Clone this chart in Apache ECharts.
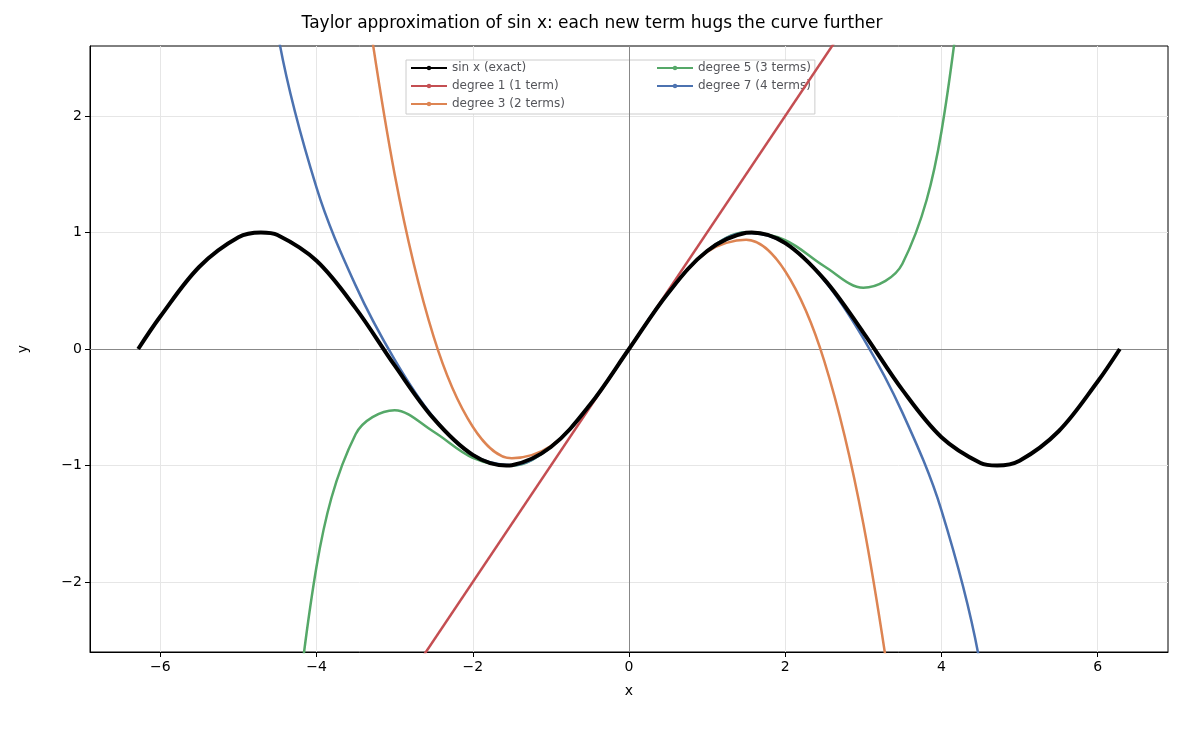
<!DOCTYPE html><html><head><meta charset="utf-8"><script src="https://cdn.jsdelivr.net/npm/echarts@6/dist/echarts.min.js"></script></head><body style="margin:0"><div id="c" style="width:1184px;height:731px"></div><script>
const xsSin=[-6.283,-6,-5.5,-5,-4.712,-4.5,-4,-3.5,-3,-2.5,-2,-1.571,-1.5,-1,-0.5,0,0.5,1,1.5,1.571,2,2.5,3,3.5,4,4.5,4.712,5,5.5,6,6.283];
const ySin=[0,0.279,0.706,0.959,1,0.978,0.757,0.351,-0.141,-0.598,-0.909,-1,-0.997,-0.841,-0.479,0,0.479,0.841,0.997,1,0.909,0.598,0.141,-0.351,-0.757,-0.978,-1,-0.959,-0.706,-0.279,0];
const xs1=[-3,3];const y1=[-3,3];
const xs3=[-3.5,-3,-2.5,-2,-1.5,-1,-0.5,0,0.5,1,1.5,2,2.5,3,3.5];
const y3=[3.646,1.5,0.104,-0.667,-0.9375,-0.833,-0.479,0,0.479,0.833,0.9375,0.667,-0.104,-1.5,-3.646];
const xs5=[-4.5,-4,-3.5,-3,-2.5,-2,-1.5,-1,-0.5,0,0.5,1,1.5,2,2.5,3,3.5,4,4.5];
const y5=[-4.69,-1.867,-0.731,-0.525,-0.71,-0.933,-1.0008,-0.8417,-0.4794,0,0.4794,0.8417,1.0008,0.933,0.71,0.525,0.731,1.867,4.69];
const xs7=[-5,-4.5,-4,-3.5,-3,-2.5,-2,-1.5,-1,-0.5,0,0.5,1,1.5,2,2.5,3,3.5,4,4.5,5];
const y7=[5.29,2.724,1.384,0.546,-0.0911,-0.589,-0.9079,-0.9974,-0.8415,-0.4794,0,0.4794,0.8415,0.9974,0.9079,0.589,0.0911,-0.546,-1.384,-2.724,-5.29];
const xTicks=[-6,-4,-2,0,2,4,6];const yTicks=[-2,-1,0,1,2];
const z=(a,b)=>a.map((v,i)=>[v,b[i]]);
const ln=(name,d,color,w,zz)=>({name,type:'line',data:d,smooth:0.35,showSymbol:false,lineStyle:{color,width:w},itemStyle:{color},z:zz});
const ch=echarts.init(document.getElementById('c'));
const lbl={color:'#000',fontSize:14,fontFamily:'DejaVu Sans'};
ch.setOption({animation:false,
title:{text:'Taylor approximation of sin x: each new term hugs the curve further',left:'center',top:10,textStyle:{fontSize:17,fontWeight:'normal',fontFamily:'DejaVu Sans',color:'#000'}},
grid:{left:90,right:16,top:46,bottom:79,show:true,borderColor:'#000',borderWidth:1},
legend:[{data:['sin x (exact)','degree 1 (1 term)','degree 3 (2 terms)'],orient:'vertical',left:406,top:60,itemGap:6,itemWidth:36,itemHeight:3,textStyle:{fontSize:12,fontFamily:'DejaVu Sans'},backgroundColor:'#fff',borderColor:'#ccc',borderWidth:1,padding:[2,250,4,4]},
{data:['degree 5 (3 terms)','degree 7 (4 terms)'],orient:'vertical',left:652,top:60,itemGap:6,itemWidth:36,itemHeight:3,textStyle:{fontSize:12,fontFamily:'DejaVu Sans'},padding:[2,4,4,4]}],
xAxis:{type:'value',min:-6.9,max:6.9,name:'x',nameLocation:'middle',nameGap:32,nameTextStyle:lbl,
axisLine:{onZero:false,lineStyle:{color:'#000'}},axisTick:{customValues:xTicks,lineStyle:{color:'#000'}},axisLabel:{customValues:xTicks,...lbl,formatter:v=>String(v).replace('-','\u2212')},splitLine:{show:true,lineStyle:{color:'#e6e6e6'}}},
yAxis:{type:'value',min:-2.6,max:2.6,name:'y',nameLocation:'middle',nameGap:60,nameTextStyle:lbl,
axisLine:{show:true,onZero:false,lineStyle:{color:'#000'}},axisTick:{show:true,customValues:yTicks,lineStyle:{color:'#000'}},axisLabel:{customValues:yTicks,...lbl,formatter:v=>String(v).replace('-','\u2212')},splitLine:{show:true,lineStyle:{color:'#e6e6e6'}}},
series:[Object.assign(ln('sin x (exact)',z(xsSin,ySin),'#000',4,10),{markLine:{silent:true,symbol:'none',label:{show:false},lineStyle:{color:'#888',width:1,type:'solid'},data:[{xAxis:0},{yAxis:0}]}}),
ln('degree 1 (1 term)',z(xs1,y1),'#c44e52',2.5,5),
ln('degree 3 (2 terms)',z(xs3,y3),'#dd8452',2.5,5),
ln('degree 5 (3 terms)',z(xs5,y5),'#55a868',2.5,5),
ln('degree 7 (4 terms)',z(xs7,y7),'#4c72b0',2.5,5)]});
</script></body></html>
